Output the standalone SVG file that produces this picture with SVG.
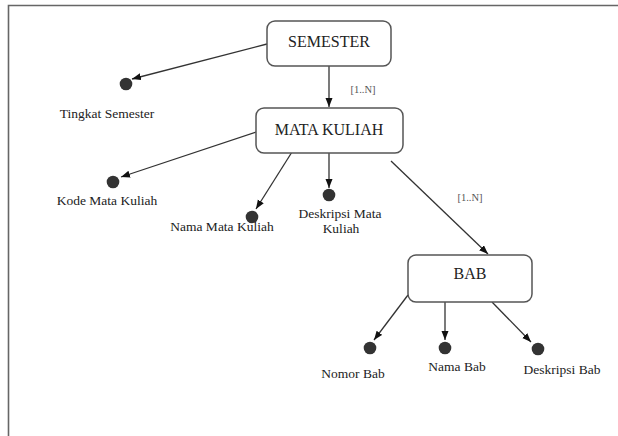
<svg xmlns="http://www.w3.org/2000/svg" width="618" height="436" viewBox="0 0 618 436">
<style>
.box{fill:#fff;stroke:#555;stroke-width:1.5}
.t{font-family:'Liberation Serif','Times New Roman','DejaVu Serif',serif;fill:#222;text-anchor:middle}
.big{font-size:16px}
.lbl{font-size:13.5px}
.card{font-size:10.5px;fill:#555}
.ln{stroke:#333;stroke-width:1.3;fill:none;marker-end:url(#ah)}
.dot{fill:#333}
</style>
<defs>
<marker id="ah" markerUnits="userSpaceOnUse" markerWidth="10" markerHeight="8" refX="9" refY="3.5" orient="auto">
<path d="M0,0 L9,3.5 L0,7 z" fill="#111"/>
</marker>
</defs>
<rect width="618" height="436" fill="#fff"/>
<path d="M8.5,436 V5.5 H618" fill="none" stroke="#666" stroke-width="1.6"/>
<g id="connectors">
<line class="ln" x1="267" y1="44" x2="132" y2="79"/>
<line class="ln" x1="329" y1="66" x2="329" y2="107"/>
<text class="t card" x="363" y="93" font-family="Liberation Serif, serif">[1..N]</text>
<line class="ln" x1="256" y1="132" x2="121" y2="177"/>
<line class="ln" x1="292" y1="152" x2="256" y2="209"/>
<line class="ln" x1="329" y1="153" x2="329" y2="188"/>
<line class="ln" x1="391" y1="161" x2="488" y2="254"/>
<text class="t card" x="470" y="201" font-family="Liberation Serif, serif">[1..N]</text>
<line class="ln" x1="408" y1="295" x2="374" y2="340"/>
<line class="ln" x1="445" y1="302" x2="445" y2="340"/>
<line class="ln" x1="492" y1="302" x2="531" y2="342"/>
</g>
<g id="semester"><rect class="box" x="267" y="21" width="124" height="45" rx="8"/><text class="t big" x="329" y="47" font-family="Liberation Serif, serif">SEMESTER</text></g>
<g id="mata-kuliah"><rect class="box" x="256" y="108" width="147" height="45" rx="8"/><text class="t big" x="329" y="135" font-family="Liberation Serif, serif">MATA KULIAH</text></g>
<g id="bab"><rect class="box" x="408" y="255" width="124" height="47" rx="8"/><text class="t big" x="470" y="279" font-family="Liberation Serif, serif">BAB</text></g>
<g id="tingkat-semester"><circle class="dot" cx="126" cy="84" r="6.3"/><text class="t lbl" x="107" y="118" font-family="Liberation Serif, serif">Tingkat Semester</text></g>
<g id="kode-mata-kuliah"><circle class="dot" cx="113" cy="182" r="6.3"/><text class="t lbl" x="107" y="205" font-family="Liberation Serif, serif">Kode Mata Kuliah</text></g>
<g id="nama-mata-kuliah"><circle class="dot" cx="252" cy="217" r="6.3"/><text class="t lbl" x="222" y="231" font-family="Liberation Serif, serif">Nama Mata Kuliah</text></g>
<g id="deskripsi-mata-kuliah"><circle class="dot" cx="329" cy="195" r="6.3"/><text class="t lbl" x="340" y="218" font-family="Liberation Serif, serif">Deskripsi Mata</text><text class="t lbl" x="341" y="233" font-family="Liberation Serif, serif">Kuliah</text></g>
<g id="nomor-bab"><circle class="dot" cx="370" cy="348" r="6.3"/><text class="t lbl" x="353" y="378" font-family="Liberation Serif, serif">Nomor Bab</text></g>
<g id="nama-bab"><circle class="dot" cx="445" cy="348" r="6.3"/><text class="t lbl" x="457" y="371" font-family="Liberation Serif, serif">Nama Bab</text></g>
<g id="deskripsi-bab"><circle class="dot" cx="538" cy="349" r="6.3"/><text class="t lbl" x="562" y="374" font-family="Liberation Serif, serif">Deskripsi Bab</text></g>
</svg>
